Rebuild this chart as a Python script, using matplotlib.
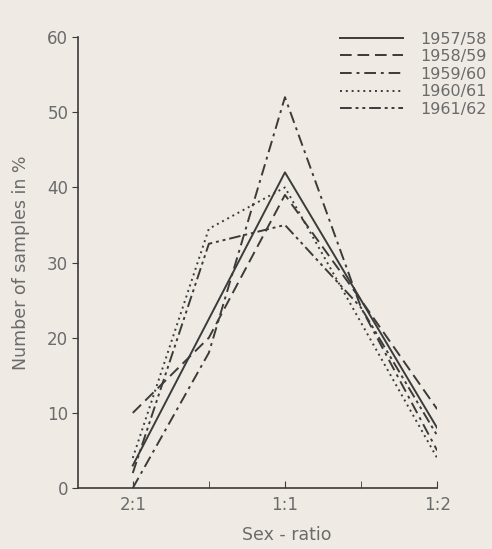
import matplotlib.pyplot as plt

ratio_pos = [0, 0.5, 1, 1.5, 2]
tick_labels = ['2:1', '1:1', '1:2']

s1957 = [3, 22.5, 42, 25, 8]
s1958 = [10, 20, 39, 25, 10.5]
s1959 = [0, 18, 52, 24, 5]
s1960 = [4, 34.5, 40, 22, 4]
s1961 = [2, 32.5, 35, 24, 7]

labels = ['1957/58', '1958/59', '1959/60', '1960/61', '1961/62']
series = [s1957, s1958, s1959, s1960, s1961]
dashes = [(None, None), (6, 3), (6, 2.5, 1.5, 2.5), (1, 2), (6, 2, 1.5, 2, 1.5, 2)]

bg = '#efebe4'
ink = '#3b3b3b'
txt = '#6b6b6b'

fig = plt.figure(figsize=(4.92, 5.49), dpi=100, facecolor=bg)
ax = fig.add_axes([0.1585, 0.111, 0.73, 0.8215], facecolor=bg)

for vals, lab, d in zip(series, labels, dashes):
    line, = ax.plot(ratio_pos, vals, color=ink, lw=1.4, label=lab)
    if d[0] is not None:
        line.set_dashes(d)

ax.set_xlim(-0.36, 2)
ax.set_ylim(0, 60)
ax.set_yticks([0, 10, 20, 30, 40, 50, 60])
ax.set_xticks([0, 1, 2])
ax.set_xticklabels(tick_labels)
ax.set_xticks([0.5, 1.5], minor=True)

for side in ['top', 'right']:
    ax.spines[side].set_visible(False)
for side in ['left', 'bottom']:
    ax.spines[side].set_color(ink)
    ax.spines[side].set_linewidth(1.2)

ax.tick_params(axis='y', direction='out', length=4, color=ink, labelsize=12, labelcolor=txt, pad=3)
ax.tick_params(axis='x', which='both', direction='in', length=5, color=ink, labelsize=12, labelcolor=txt, pad=6)

ax.set_ylabel('Number of samples in %', fontsize=12.5, color=txt, labelpad=12)
ax.set_xlabel('Sex - ratio', fontsize=12.5, color=txt)
ax.xaxis.set_label_coords(0.58, -0.085)

ax.legend(loc='upper right', bbox_to_anchor=(1.16, 1.03), frameon=False, fontsize=11.5,
          labelcolor=txt, handlelength=3.9, handletextpad=1.1, labelspacing=0.16, borderpad=0)

fig.savefig('out.png', dpi=100, facecolor=bg)
